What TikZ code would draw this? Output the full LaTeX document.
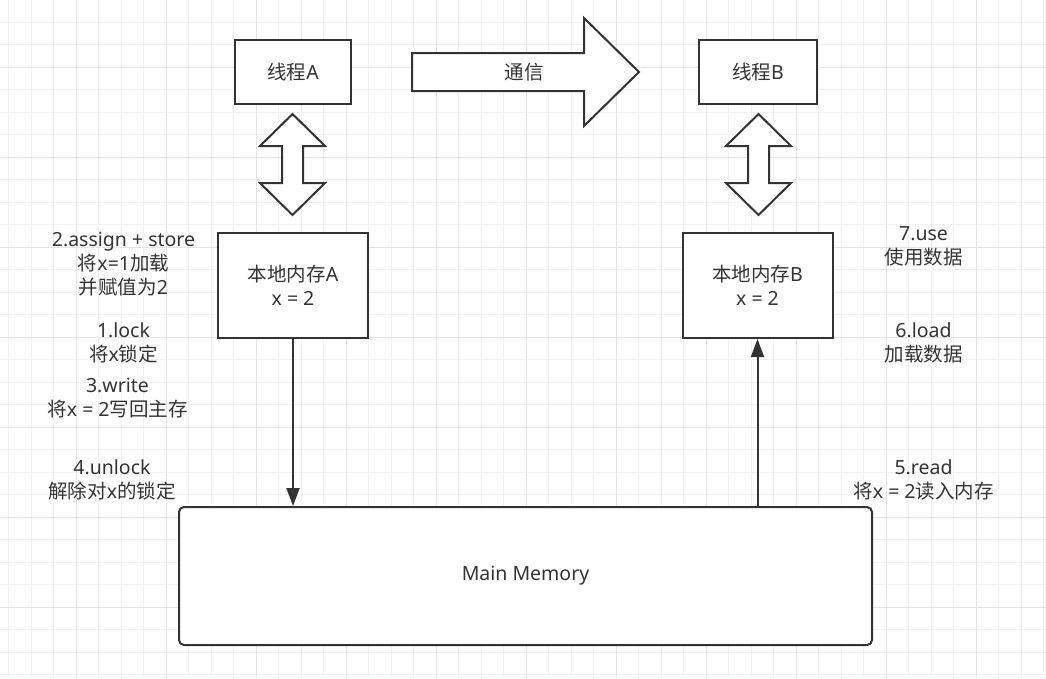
\documentclass[tikz,border=0pt]{standalone}
\usepackage{fontspec}
\setmainfont{Noto Sans}
\newfontfamily\cjk{Noto Sans CJK SC}
\usepackage{xcolor}
\usepackage{tikz}
\usetikzlibrary{arrows.meta}
\definecolor{inkgray}{HTML}{333333}
\definecolor{gridminor}{HTML}{F1F1F1}
\definecolor{gridmajor}{HTML}{E4E4E4}

\begin{document}
\begin{tikzpicture}[x=1pt, y=-1pt,
		font=\fontsize{19.5}{24}\selectfont, text=inkgray,
		box/.style={draw=inkgray, line width=2pt, fill=white, align=center, inner sep=0pt},
		note/.style={align=center, inner sep=0pt},
		bigarrow/.style={draw=inkgray, line width=2pt, fill=white, line join=miter},
		flow/.style={draw=inkgray, line width=2pt, -{Triangle[width=13pt,length=18pt]}}]
				\useasboundingbox (0,0) rectangle (1046,678);
				
				% Grid
				\foreach \gx in {8.5,31,...,1046} \draw[gridminor, line width=1pt] (\gx,0) -- (\gx,678);
				\foreach \gy in {22,44.5,...,678} \draw[gridminor, line width=1pt] (0,\gy) -- (1046,\gy);
				\foreach \gx in {76,166,...,1046} \draw[gridmajor, line width=1pt] (\gx,0) -- (\gx,678);
				\foreach \gy in {67,157,...,678} \draw[gridmajor, line width=1pt] (0,\gy) -- (1046,\gy);
				
				% Threads
				\node[box, minimum width=116pt, minimum height=64pt] (thrA) at (293,72) {{\cjk 线程}A};
				\node[box, minimum width=118pt, minimum height=64pt] (thrB) at (758,72) {{\cjk 线程}B};
				
				% Communication arrow
				\draw[bigarrow] (412,53) -- (584,53) -- (584,18) -- (639,72) -- (584,126) -- (584,91) -- (412,91) -- cycle;
				\node[note] (comm) at (524,72) {\cjk 通信};
				
				% Thread <-> local memory
				\foreach \cx in {292.5,758.5}
					\draw[bigarrow] (\cx,114) -- ++(32.5,32) -- ++(-22,0) -- ++(0,37) -- ++(22,0)
						-- ++(-32.5,32) -- ++(-32.5,-32) -- ++(22,0) -- ++(0,-37) -- ++(-22,0) -- cycle;
				
				% Local memories
				\node[box, minimum width=150pt, minimum height=105pt] (memA) at (293,285.5) {{\cjk 本地内存}A\\x = 2};
				\node[box, minimum width=150pt, minimum height=105pt] (memB) at (757.5,285.5) {{\cjk 本地内存}B\\x = 2};
				
				% Main memory
				\node[box, rounded corners=5pt, minimum width=693pt, minimum height=138pt] (main) at (525.5,576) {Main Memory};
				
				% Write back / read in
				\draw[flow] (memA.south) -- (memA.south |- main.north);
				\draw[flow] (memB.south |- main.north) -- (memB.south);
				
				% Steps of thread A
				\node[note] (assign) at (123.5,264) {2.assign + store\\{\cjk 将}x=1{\cjk 加载}\\{\cjk 并赋值为}2};
				\node[note] (lock) at (123.5,342.5) {1.lock\\{\cjk 将}x{\cjk 锁定}};
				\node[note] (write) at (117.5,398.5) {3.write\\{\cjk 将}x = 2{\cjk 写回主存}};
				\node[note] (unlock) at (112,480) {4.unlock\\{\cjk 解除对}x{\cjk 的锁定}};
				
				% Steps of thread B
				\node[note] (use) at (923.5,246) {7.use\\{\cjk 使用数据}};
				\node[note] (load) at (923.5,342.5) {6.load\\{\cjk 加载数据}};
				\node[note] (read) at (923.5,480) {5.read\\{\cjk 将}x = 2{\cjk 读入内存}};
				
			\end{tikzpicture}
\end{document}
